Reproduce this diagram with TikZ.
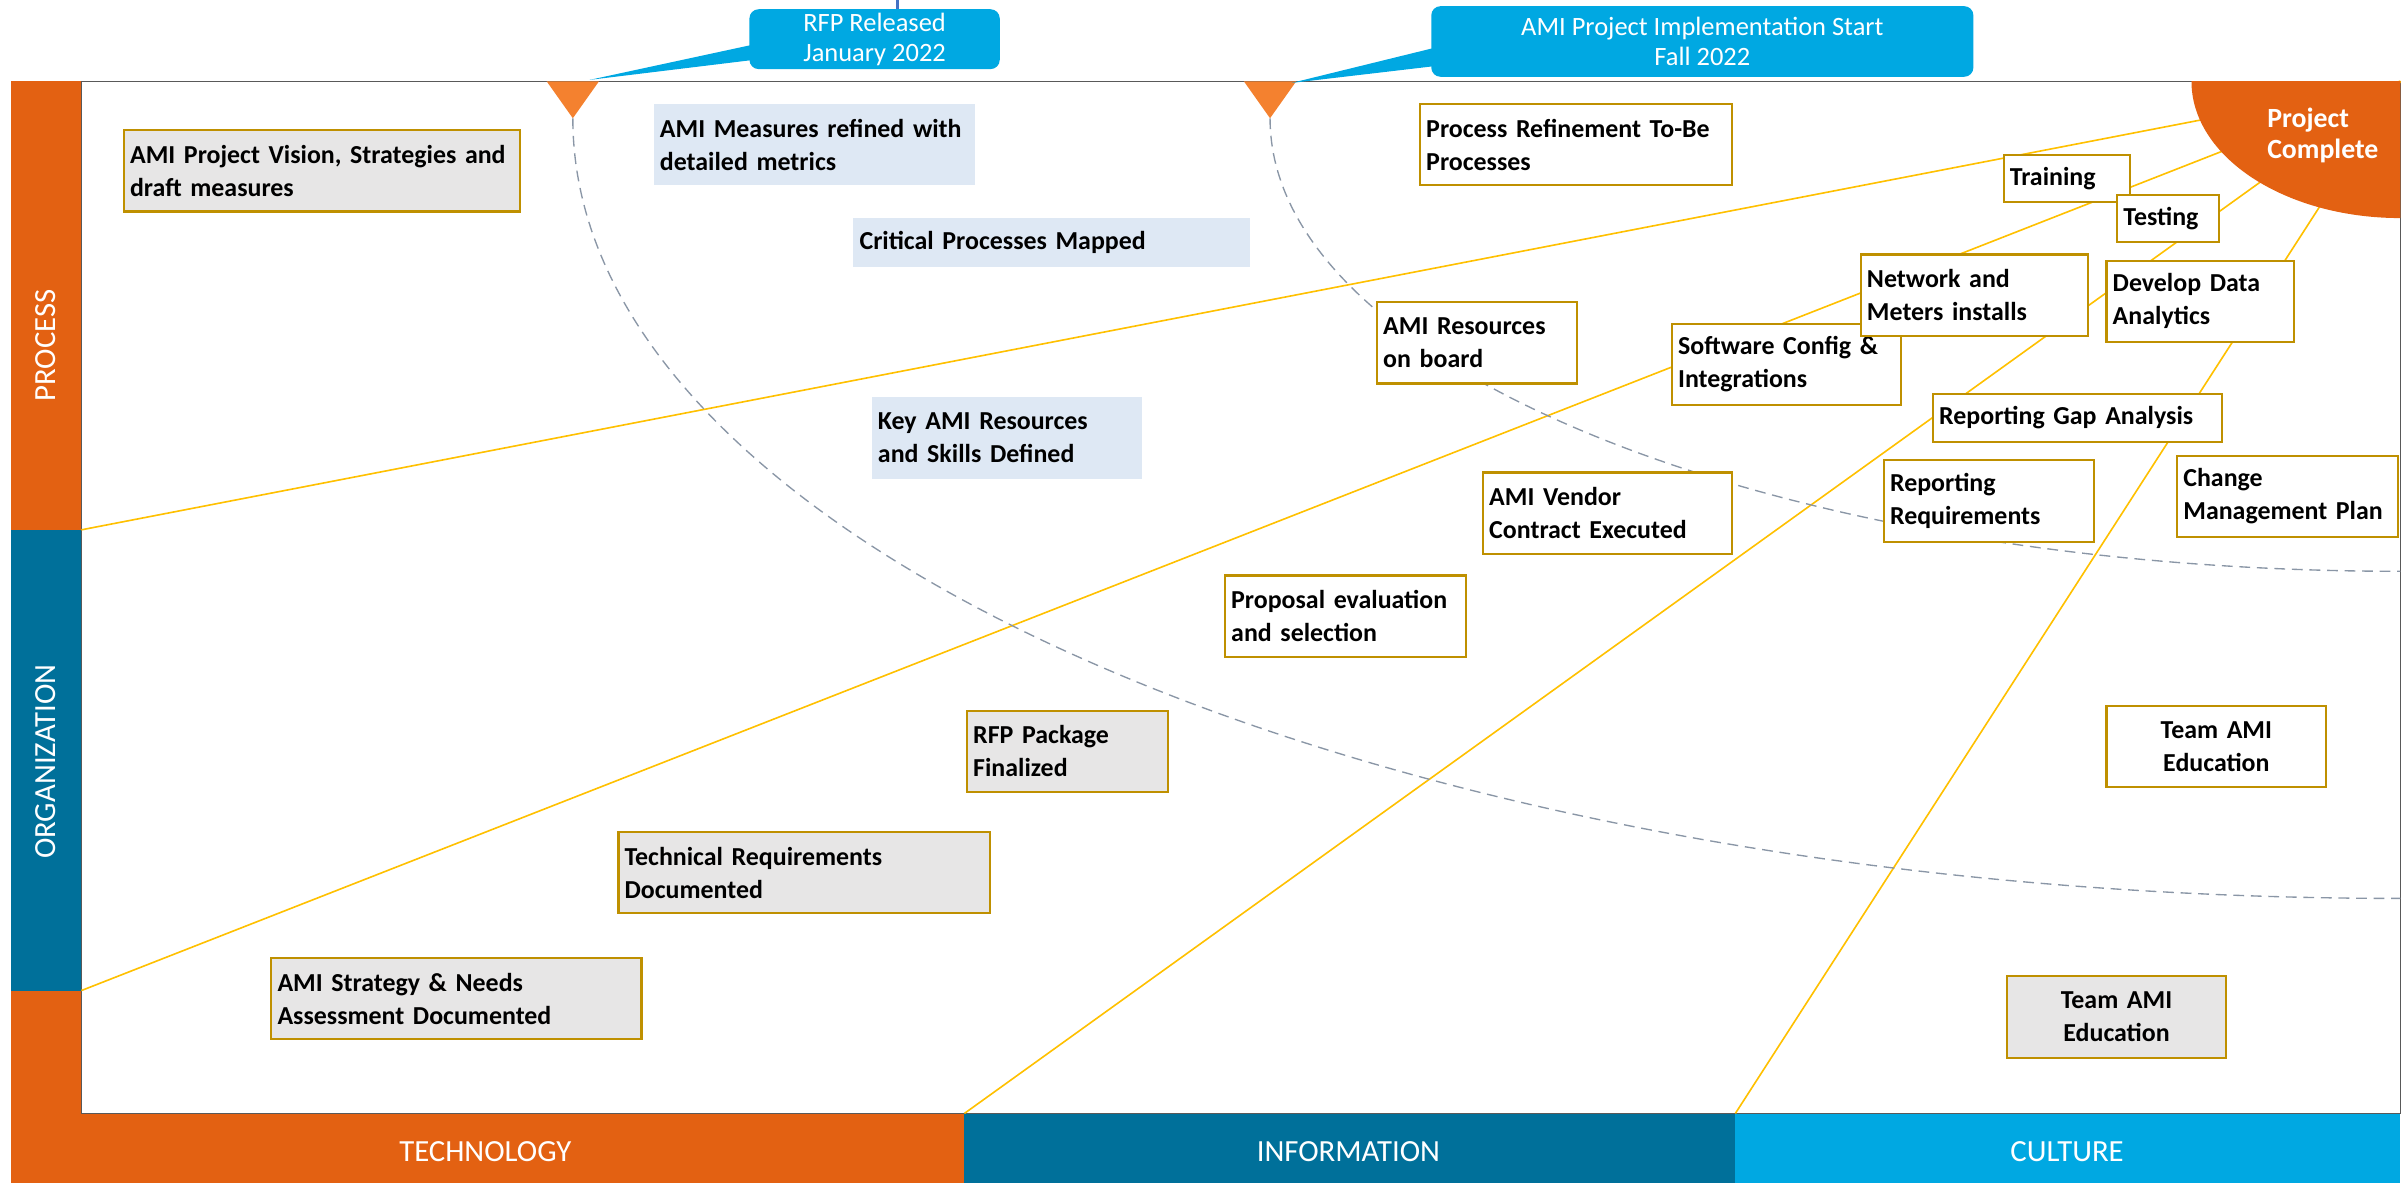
\documentclass[tikz,border=0pt]{standalone}
\usepackage{fontspec}
\setmainfont{Carlito}
\usetikzlibrary{calc}

\definecolor{barorange}{HTML}{E36112}
\definecolor{barteal}{HTML}{00709A}
\definecolor{barcyan}{HTML}{00A8E2}
\definecolor{markorange}{HTML}{F4812F}
\definecolor{gold}{HTML}{BF9000}
\definecolor{spokeyellow}{HTML}{FFC000}
\definecolor{boxgray}{HTML}{E7E6E6}
\definecolor{boxblue}{HTML}{DEE8F4}
\definecolor{guidegray}{HTML}{8A96A6}
\definecolor{pinblue}{HTML}{4472C4}

% one unit = one pixel of the layout grid
\newlength\px
\setlength\px{0.2mm}

\begin{document}
\begin{tikzpicture}[x=\px,y=-\px,
    item/.style={draw=gold,line width=0.8pt,anchor=north west,align=left,
      inner xsep=4\px,inner ysep=0pt,font=\bfseries\fontsize{9.6}{12.2}\selectfont},
    grayitem/.style={item,fill=boxgray},
    whiteitem/.style={item,fill=white},
    blueitem/.style={item,draw=none,fill=boxblue},
    axislabel/.style={text=white,font=\fontsize{11.4}{13}\selectfont},
    milestone/.style={fill=barcyan,rounded corners=6\px,text=white,align=center,
      inner sep=0pt,font=\fontsize{9.8}{11.2}\selectfont},
    spoke/.style={spokeyellow,line width=0.6pt},
    guide/.style={guidegray,line width=0.5pt,dash pattern=on 4pt off 2.5pt}]
  \useasboundingbox (0,0) rectangle (1568,770);

  % side and bottom bars
  \fill[barorange] (7,53) rectangle (53,345);
  \fill[barteal] (7,345) rectangle (53,645);
  \fill[barorange] (7,645) rectangle (53,725);
  \fill[barorange] (7,725) rectangle (628,770);
  \fill[barteal] (628,725) rectangle (1130,770);
  \fill[barcyan] (1130,725) rectangle (1563,770);
  \node[axislabel,rotate=90] (process) at (30,225) {PROCESS};
  \node[axislabel,rotate=90] (organization) at (30,496) {ORGANIZATION};
  \node[axislabel] (technology) at (316,750) {TECHNOLOGY};
  \node[axislabel] (information) at (878,750) {INFORMATION};
  \node[axislabel] (culture) at (1346,750) {CULTURE};

  % plot frame
  \draw[gray!70!black,line width=0.6pt] (53,53) rectangle (1563,725);

  % spokes to the finish corner
  \coordinate (corner) at (1563,53);
  \draw[spoke] (53,345) -- (corner);
  \draw[spoke] (53,645) -- (corner);
  \draw[spoke] (628,725) -- (corner);
  \draw[spoke] (1130,725) -- (corner);

  % milestone markers and their arcs
  \coordinate (rfptip) at (373,77);
  \coordinate (impltip) at (827,77);
  \draw[guide] (rfptip) arc[start angle=180,end angle=90,x radius=1190,y radius=508];
  \draw[guide] (impltip) arc[start angle=180,end angle=90,x radius=736,y radius=295];
  \fill[markorange] (356,53) -- (390,53) -- (rfptip) -- cycle;
  \fill[markorange] (810,53) -- (844,53) -- (impltip) -- cycle;

  % finish
  \begin{scope}
    \clip (53,53) rectangle (1563,725);
    \fill[barorange] (corner) ellipse[x radius=136,y radius=89];
  \end{scope}
  \node[anchor=west,align=left,text=white,inner sep=0pt,
    font=\bfseries\fontsize{10.3}{11.4}\selectfont] (done) at (1476,88) {Project\\Complete};

  % process items
  \node[grayitem,text width=250\px,minimum height=53\px] (vision) at (80,84) {AMI Project Vision, Strategies and\\draft measures};
  \node[blueitem,text width=201\px,minimum height=53\px] (measures) at (425,67) {AMI Measures refined with\\detailed metrics};
  \node[blueitem,text width=250\px,minimum height=32\px] (critical) at (555,141) {Critical Processes Mapped};
  \node[blueitem,text width=168\px,minimum height=53\px] (keyres) at (567,258) {Key AMI Resources\\and Skills Defined};
  \node[whiteitem,text width=195\px,minimum height=53\px] (tobe) at (924,67) {Process Refinement To-Be\\Processes};
  \node[whiteitem,text width=122\px,minimum height=53\px] (onboard) at (896,196) {AMI Resources\\on board};
  \node[whiteitem,text width=141\px,minimum height=53\px] (software) at (1088,210) {Software Config \&\\Integrations};
  \node[whiteitem,text width=140\px,minimum height=53\px] (network) at (1211,165) {Network and\\Meters installs};
  \node[whiteitem,text width=74\px,minimum height=31\px] (training) at (1304,100) {Training};
  \node[whiteitem,text width=58\px,minimum height=31\px] (testing) at (1378,126) {Testing};
  \node[whiteitem,text width=114\px,minimum height=53\px] (analytics) at (1371,169) {Develop Data\\Analytics};
  \node[whiteitem,text width=180\px,minimum height=31\px] (gapanalysis) at (1258,256) {Reporting Gap Analysis};
  \node[whiteitem,text width=129\px,minimum height=53\px] (reporting) at (1226,299) {Reporting\\Requirements};
  \node[whiteitem,text width=136\px,minimum height=53\px] (change) at (1417,296) {Change\\Management Plan};

  % organization items
  \node[whiteitem,text width=154\px,minimum height=53\px] (vendor) at (965,307) {AMI Vendor\\Contract Executed};
  \node[whiteitem,text width=149\px,minimum height=53\px] (proposal) at (797,374) {Proposal evaluation\\and selection};
  \node[grayitem,text width=123\px,minimum height=53\px] (rfppkg) at (629,462) {RFP Package\\Finalized};
  \node[grayitem,text width=234\px,minimum height=53\px] (techreq) at (402,541) {Technical Requirements\\Documented};
  \node[grayitem,text width=233\px,minimum height=53\px] (strategy) at (176,623) {AMI Strategy \& Needs\\Assessment Documented};
  \node[whiteitem,align=center,text width=135\px,minimum height=53\px] (educa) at (1371,459) {Team AMI\\Education};
  \node[grayitem,align=center,text width=135\px,minimum height=53\px] (educb) at (1306,635) {Team AMI\\Education};

  % milestone callouts
  \node[milestone,minimum width=163\px,minimum height=39\px] (rfp) at (569.5,25.5) {RFP Released\\January 2022};
  \fill[barcyan] ($(rfp.west)+(3,3.5)$) -- (384,52) -- ($(rfp.west)+(3,13.5)$) -- cycle;
  \draw[pinblue,line width=1.2pt] ($(rfp.north)+(15,0)$) -- ++(0,-6);
  \node[milestone,minimum width=353\px,minimum height=46\px] (impl) at (1108.5,27) {AMI Project Implementation Start\\Fall 2022};
  \fill[barcyan] ($(impl.west)+(3,4)$) -- (841,54) -- ($(impl.west)+(3,16)$) -- cycle;
\end{tikzpicture}
\end{document}
